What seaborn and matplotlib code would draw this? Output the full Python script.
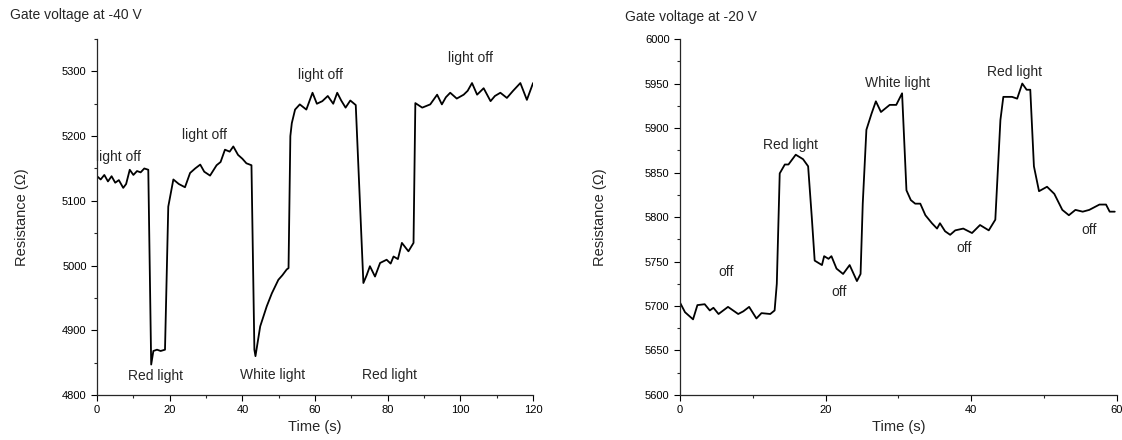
import matplotlib
matplotlib.use("Agg")
import matplotlib.pyplot as plt
from matplotlib.ticker import AutoMinorLocator, MultipleLocator
import pandas as pd
import seaborn as sns

# Gate voltage -40 V trace (time s, resistance ohm)
time_40 = [0, 1, 2, 3, 4, 5, 6, 7.2, 8, 9, 10, 11, 12, 13, 14.1,
           14.9, 15.5, 16.5, 17.5, 18.7, 19.6, 21, 22.5, 24.2, 25.6, 27, 28.4, 29.5,
           31.1, 32.9, 34, 35.2, 36.5, 37.5, 38.8, 40, 41.1, 42.5,
           43.3, 43.6, 44.9, 46.7, 48.1, 49.9, 51, 52.2, 52.7,
           53.2, 53.6, 54.5, 55.8, 57.6, 59.3, 60.5, 62, 63.5, 65, 66.1, 67.2, 68.4, 69.7, 71.2,
           73.3, 74.2, 75.1, 76.5, 77.9, 79.7, 80.8, 81.6, 82.8, 83.9, 85.7, 87.1,
           87.6, 89.5, 91.7, 93.6, 94.9, 96, 97.2, 99, 100.9, 102, 103.2, 104.6, 106.4,
           108.3, 109.5, 111, 112.8, 114.5, 116.5, 118.3, 120]
res_40 = [5138, 5133, 5140, 5130, 5138, 5128, 5132, 5120, 5126, 5148, 5140, 5146, 5144, 5150, 5148,
          4847, 4868, 4870, 4868, 4870, 5091, 5133, 5126, 5121, 5143, 5150, 5156, 5145,
          5139, 5155, 5160, 5179, 5176, 5184, 5171, 5165, 5158, 5155,
          4870, 4860, 4906, 4937, 4957, 4978, 4985, 4994, 4996,
          5200, 5220, 5241, 5249, 5241, 5267, 5250, 5254, 5262, 5250, 5267, 5255, 5244, 5255, 5248,
          4973, 4985, 4999, 4983, 5004, 5009, 5003, 5014, 5010, 5035, 5022, 5035,
          5251, 5244, 5249, 5264, 5249, 5260, 5267, 5258, 5264, 5270, 5282, 5264, 5274,
          5254, 5262, 5267, 5259, 5270, 5282, 5256, 5282]

# Gate voltage -20 V trace
time_20 = [0, 0.7, 1.8, 2.4, 3.4, 4.1, 4.6, 5.3, 6.6, 8.0, 8.7, 9.5, 10.5, 11.2, 12.4, 13.0,
           13.3, 13.7, 14.4, 14.9, 15.9, 16.9, 17.6, 18.1, 18.5, 19.5, 19.8, 20.4, 20.8, 21.5,
           22.4, 23.3, 24.3, 24.8, 25.1, 25.6, 26.3, 26.9, 27.6, 28.8, 29.7, 30.5,
           31.1, 31.7, 32.3, 33.0, 33.7, 34.6, 35.3, 35.7, 36.4, 37.1, 37.8, 38.9, 40.1, 41.2,
           42.4, 43.3, 44.0, 44.4, 45.6, 46.3, 47.0, 47.6, 48.1, 48.6, 49.3, 50.4, 51.4,
           52.5, 53.4, 54.3, 55.3, 56.2, 57.6, 58.5, 59.0, 59.7]
res_20 = [5704, 5693, 5685, 5701, 5702, 5695, 5698, 5691, 5699, 5691, 5694, 5699, 5686, 5692, 5691, 5695,
          5725, 5849, 5859, 5859, 5870, 5865, 5857, 5800, 5751, 5746, 5756, 5753, 5756, 5742,
          5736, 5746, 5728, 5736, 5815, 5898, 5916, 5930, 5918, 5926, 5926, 5939,
          5830, 5819, 5815, 5815, 5802, 5793, 5787, 5793, 5784, 5780, 5785, 5787, 5782, 5791,
          5785, 5797, 5909, 5935, 5935, 5933, 5950, 5943, 5943, 5857, 5829, 5834, 5826,
          5808, 5802, 5808, 5806, 5808, 5814, 5814, 5806, 5806]

# annotation texts with data positions
labels_40 = ["light off", "light off", "light off", "light off", "Red light", "White light", "Red light"]
label_t_40 = [5.8, 29.7, 61.4, 102.7, 16.2, 48.2, 80.6]
label_r_40 = [5167, 5202, 5295, 5321, 4830, 4831, 4831]

labels_20 = ["Red light", "White light", "Red light", "off", "off", "off", "off"]
label_t_20 = [15.2, 29.9, 46.0, 6.4, 21.9, 39.0, 56.2]
label_r_20 = [5881, 5951, 5963, 5738, 5716, 5765, 5785]

sns.set_style("ticks")
plt.rcParams["font.family"] = ["Liberation Sans", "DejaVu Sans"]

fig = plt.figure(figsize=(11.22, 4.4), dpi=100)
ax1 = fig.add_axes([0.0865, 0.1023, 0.3886, 0.809])
ax2 = fig.add_axes([0.606, 0.1023, 0.3895, 0.809])

df40 = pd.DataFrame({"t": time_40, "r": res_40})
df20 = pd.DataFrame({"t": time_20, "r": res_20})
sns.lineplot(data=df40, x="t", y="r", ax=ax1, color="black", linewidth=1.3, estimator=None, sort=False)
sns.lineplot(data=df20, x="t", y="r", ax=ax2, color="black", linewidth=1.3, estimator=None, sort=False)


def style_axis(ax, xlim, ylim, xstep, ystep, pad):
    ax.set_xlim(*xlim)
    ax.set_ylim(*ylim)
    ax.xaxis.set_major_locator(MultipleLocator(xstep))
    ax.yaxis.set_major_locator(MultipleLocator(ystep))
    ax.xaxis.set_minor_locator(AutoMinorLocator(2))
    ax.yaxis.set_minor_locator(AutoMinorLocator(2))
    ax.tick_params(which="major", direction="out", length=4, width=0.8, labelsize=8, colors="black")
    ax.tick_params(which="minor", direction="out", length=2.5, width=0.8)
    for side in ["top", "right"]:
        ax.spines[side].set_visible(False)
    for side in ["left", "bottom"]:
        ax.spines[side].set_linewidth(0.9)
    ax.set_xlabel("Time (s)", fontsize=10.5, labelpad=3)
    ax.set_ylabel("Resistance (\u03a9)", fontsize=10.5, labelpad=pad)


style_axis(ax1, (0, 120), (4800, 5350), 20, 100, 24)
style_axis(ax2, (0, 60), (5600, 6000), 20, 50, 27)

for txt, t, r in zip(labels_40, label_t_40, label_r_40):
    ax1.text(t, r, txt, ha="center", va="center", fontsize=10)
for txt, t, r in zip(labels_20, label_t_20, label_r_20):
    ax2.text(t, r, txt, ha="center", va="center", fontsize=10)

fig.text(0.009, 0.965, "Gate voltage at -40 V", ha="left", va="center", fontsize=10)
fig.text(0.557, 0.962, "Gate voltage at -20 V", ha="left", va="center", fontsize=10)

fig.savefig("out.png", dpi=100)
